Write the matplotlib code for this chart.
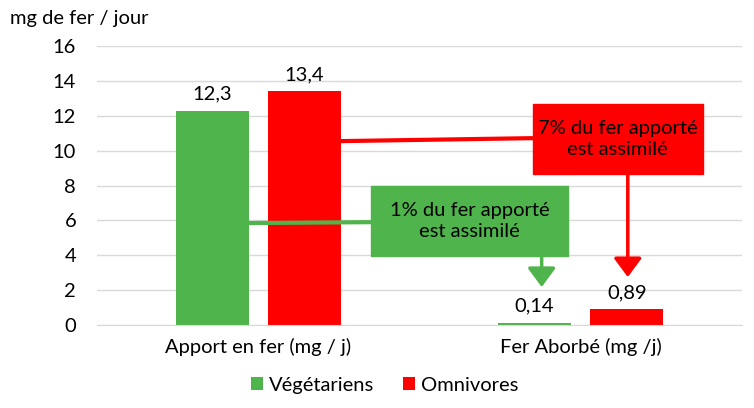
import numpy as np
import matplotlib.pyplot as plt
from matplotlib.patches import Rectangle

plt.rcParams['font.family'] = ['Lato', 'DejaVu Sans']

categories = ['Apport en fer (mg / j)', 'Fer Aborbé (mg /j)']
series_names = ['Végétariens', 'Omnivores']
vege = [12.3, 0.14]
omni = [13.4, 0.89]
vege_labels = ['12,3', '0,14']
omni_labels = ['13,4', '0,89']
green = '#50b44c'
red = '#ff0000'
fs = 14.5

fig = plt.figure(figsize=(7.54, 4.08), dpi=100)
ax = fig.add_axes([0.1286, 0.2034, 0.8554, 0.6836])

x = np.arange(len(categories))
w = 0.226
off = 0.143
b1 = ax.bar(x - off, vege, w, color=green, label=series_names[0], zorder=2)
b2 = ax.bar(x + off, omni, w, color=red, label=series_names[1], zorder=2)

for bars, labs in ((b1, vege_labels), (b2, omni_labels)):
    for r, t in zip(bars, labs):
        ax.annotate(t, (r.get_x() + r.get_width() / 2, r.get_height()),
                    xytext=(0, 6), textcoords='offset points',
                    ha='center', va='bottom', fontsize=fs, color='#000000')

ax.set_xlim(-0.5, 1.5)
ax.set_ylim(0, 16)
ax.set_yticks(np.arange(0, 17, 2))
ax.set_xticks(x)
ax.set_xticklabels(categories, fontsize=fs)
ax.tick_params(axis='y', labelsize=fs, length=0, pad=15)
ax.tick_params(axis='x', length=0, pad=9)
ax.grid(axis='y', color='#d9d9d9', lw=1, zorder=0)
for s in ['top', 'right', 'left']:
    ax.spines[s].set_visible(False)
ax.spines['bottom'].set_color('#d9d9d9')

# connector lines from the intake bars to the boxes
ax.plot([b2[0].get_x() + w, 0.852], [10.55, 10.72], color=red, lw=3, zorder=3,
        solid_capstyle='butt')
ax.plot([b1[0].get_x() + w, 0.35], [5.85, 5.9], color=green, lw=3, zorder=3,
        solid_capstyle='butt')

# annotation boxes
ax.add_patch(Rectangle((0.35, 3.96), 0.61, 4.0, color=green, zorder=4))
ax.text(0.655, 5.96, '1% du fer apporté\nest assimilé', ha='center', va='center',
        fontsize=fs, zorder=5, linespacing=1.25)
ax.add_patch(Rectangle((0.852, 8.67), 0.527, 4.0, color=red, zorder=4))
ax.text(1.115, 10.67, '7% du fer apporté\nest assimilé', ha='center', va='center',
        fontsize=fs, zorder=5, linespacing=1.25)

# arrows down to the absorbed bars
arrow = dict(arrowstyle='-|>,head_width=0.85,head_length=1.15', lw=2.5,
             shrinkA=0, shrinkB=0)
ax.annotate('', xy=(0.879, 2.18), xytext=(0.879, 3.96),
            arrowprops=dict(arrow, color=green), zorder=4)
ax.annotate('', xy=(1.146, 2.75), xytext=(1.146, 8.67),
            arrowprops=dict(arrow, color=red), zorder=4)

fig.text(0.013, 0.955, 'mg de fer / jour', fontsize=fs, ha='left', va='center')

fig.legend(loc='center', bbox_to_anchor=(0.51, 0.056), ncol=2, frameon=False,
           fontsize=fs, handlelength=0.6, handleheight=0.6, handletextpad=0.3,
           columnspacing=1.4)

fig.savefig('out.png', dpi=100)
